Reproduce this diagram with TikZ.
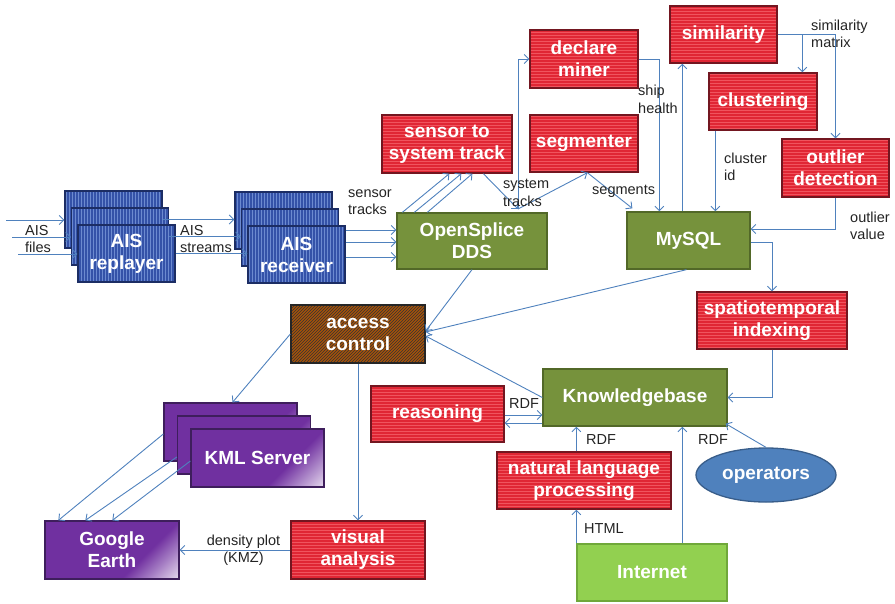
\documentclass[tikz,border=0pt]{standalone}
\usepackage{xcolor}
\usepackage{fontspec}
\setmainfont{Liberation Sans}
\usepackage{tikz}
\usetikzlibrary{positioning}
\usetikzlibrary{shapes.geometric, arrows.meta, patterns}

\definecolor{procRed}{RGB}{224,38,52}
\definecolor{procStripe}{RGB}{240,84,94}
\definecolor{procEdge}{RGB}{115,22,32}
\definecolor{aisBlue}{RGB}{52,82,168}
\definecolor{aisStripe}{RGB}{108,138,208}
\definecolor{aisEdge}{RGB}{28,45,100}
\definecolor{storeGreen}{RGB}{118,146,60}
\definecolor{storeEdge}{RGB}{82,104,40}
\definecolor{webGreen}{RGB}{146,208,80}
\definecolor{webEdge}{RGB}{112,168,58}
\definecolor{secureBrown}{RGB}{165,82,10}
\definecolor{kmlPurple}{RGB}{112,48,160}
\definecolor{kmlEdge}{RGB}{62,30,92}
\definecolor{actorBlue}{RGB}{79,129,189}
\definecolor{actorEdge}{RGB}{56,93,138}
\definecolor{flowBlue}{RGB}{79,129,189}
\definecolor{noteGray}{RGB}{35,35,35}

\pgfdeclarehorizontalshading{kmlShade}{100bp}{color(0bp)=(kmlPurple); color(64bp)=(kmlPurple); color(90bp)=(white); color(100bp)=(white)}

\newcommand{\boxFont}{\fontsize{19}{22}\selectfont\bfseries}
\newcommand{\noteFont}{\fontsize{14.5}{17.5}\selectfont}

\begin{document}
\begin{tikzpicture}[
    x=1pt, y=-1pt,
    block/.style={
        rectangle,
        line width=1.3pt,
        inner sep=0pt,
        align=center,
        text=white,
        font=\boxFont,
        minimum height=57pt
    },
    process/.style={
        block,
        draw=procEdge,
        preaction={fill=procRed},
        pattern=horizontal lines,
        pattern color=procStripe
    },
    stream/.style={
        block,
        draw=aisEdge,
        preaction={fill=aisBlue},
        pattern=vertical lines,
        pattern color=aisStripe,
        minimum width=97pt
    },
    store/.style={
        block,
        draw=storeEdge,
        fill=storeGreen
    },
    web/.style={
        block,
        draw=webEdge,
        fill=webGreen
    },
    secure/.style={
        block,
        draw=black!85,
        preaction={fill=secureBrown},
        pattern=north east lines,
        pattern color=black!80
    },
    viewer/.style={
        block,
        draw=kmlEdge,
        shade,
        shading=kmlShade,
        shading angle=-45,
        minimum width=133pt,
        minimum height=58pt
    },
    actor/.style={
        ellipse,
        draw=actorEdge,
        line width=1.3pt,
        fill=actorBlue,
        text=white,
        font=\boxFont,
        inner sep=0pt
    },
    flow/.style={
        -{Straight Barb[length=4.5pt, width=9pt]},
        draw=flowBlue,
        line width=0.9pt
    },
    note/.style={
        font=\noteFont,
        text=noteGray,
        align=left,
        inner sep=0pt,
        anchor=west
    }
]

\useasboundingbox (0,0) rectangle (895,603);

\node[stream] (replayerA) at (113.5,219.5) {};
\node[stream] (replayerB) at ([shift={(6.5,17)}]replayerA.center) {};
\node[stream] (replayerC) at ([shift={(6.5,17)}]replayerB.center) {AIS\\replayer};

\node[stream] (receiverA) at (283.5,220.5) {};
\node[stream] (receiverB) at ([shift={(6.5,17)}]receiverA.center) {};
\node[stream] (receiverC) at ([shift={(6.5,17)}]receiverB.center) {AIS\\receiver};

\node[store, minimum width=150pt, minimum height=56pt] (openSplice) at (472,241) {OpenSplice\\DDS};
\node[process, minimum width=130pt, minimum height=58pt] (sensorTrack) at (447,144) {sensor to\\system track};
\node[process, minimum width=108pt] (segmenter) at (584,143.5) {segmenter};
\node[process, minimum width=108pt, minimum height=58pt] (declareMiner) at (584,59) {declare\\miner};
\node[process, minimum width=107pt] (similarity) at (723.5,34.5) {similarity};
\node[process, minimum width=108pt] (clustering) at (763,101.5) {clustering};
\node[process, minimum width=107pt, minimum height=58pt] (outlier) at (835.5,168) {outlier\\detection};
\node[store, minimum width=123pt] (mySQL) at (688.5,240.5) {MySQL};
\node[process, minimum width=150pt] (spatio) at (772,320.5) {spatiotemporal\\indexing};
\node[store, minimum width=184pt] (knowledge) at (635,397.5) {Knowledgebase};
\node[process, minimum width=133pt, minimum height=56pt] (reasoning) at (437.5,414) {reasoning};
\node[process, minimum width=174pt] (nlp) at (584,480.5) {natural language\\processing};
\node[actor, minimum width=140pt, minimum height=54pt] (operators) at (766,475) {operators};
\node[web, minimum width=150pt] (internet) at (652,572.5) {Internet};
\node[secure, minimum width=134pt, minimum height=58pt] (access) at (358,334) {access\\control};

\node[viewer] (kmlA) at (230.5,432) {};
\node[viewer] (kmlB) at ([shift={(13.5,13)}]kmlA.center) {};
\node[viewer] (kmlC) at ([shift={(13.5,13)}]kmlB.center) {KML Server};
\node[viewer, minimum width=134pt] (googleEarth) at (112,550) {Google\\Earth};
\node[process, minimum width=134pt, minimum height=58pt] (visual) at (358,550) {visual\\analysis};

\coordinate (inA) at (6,220);
\coordinate (inB) at (12,237);
\coordinate (inC) at (18,254);
\foreach \p/\q in {inA/replayerA, inB/replayerB, inC/replayerC}
    \draw[flow] (\p) -- (\p -| \q.west);

\foreach \p/\q in {replayerA/receiverA, replayerB/receiverB, replayerC/receiverC}
    \draw[flow] (\p.east) -- (\p.east -| \q.west);

\foreach \dy in {-24.5,-12.5,2.5}
    \draw[flow] ([shift={(0,\dy)}]receiverC.east) coordinate (tap) -- (tap -| openSplice.west);

\foreach \a/\b in {6/68, 18/80, 31/91}
    \draw[flow] ([shift={(\a,0)}]openSplice.north west) -- ([shift={(\b,0)}]sensorTrack.south west);

\coordinate (sysTracks) at (518,209);
\draw[flow] ([shift={(102,0)}]sensorTrack.south west) -- (sysTracks);
\draw[flow] (sysTracks) |- (declareMiner.west);
\draw[flow] (sysTracks) -- ([shift={(58,0)}]segmenter.south west);
\draw[flow] ([shift={(58,0)}]segmenter.south west) -- ([shift={(6,-3)}]mySQL.north west);

\draw[flow] (declareMiner.east) -| ([shift={(33,0)}]mySQL.north west);
\draw[flow] ([shift={(56,0)}]mySQL.north west) -- ([shift={(13,0)}]similarity.south west);
\draw[flow] (similarity.east) -| ([shift={(94,0)}]clustering.north west);
\draw[flow] (similarity.east) -| (outlier.north);
\draw[flow] ([shift={(7,0)}]clustering.south west) -- ([shift={(89,0)}]mySQL.north west);
\draw[flow] (outlier.south) |- ([shift={(0,-11.5)}]mySQL.east);
\draw[flow] ([shift={(0,1.5)}]mySQL.east) -| (spatio.north);
\draw[flow] (spatio.south) |- (knowledge.east);

\draw[flow] (openSplice.south) -- ([shift={(0,-3)}]access.east);
\draw[flow] ([shift={(-2,0)}]mySQL.south) -- ([shift={(0,-2)}]access.east);
\draw[flow] (knowledge.west) -- ([shift={(0,2)}]access.east);
\draw[flow] (access.west) -- ([shift={(2,0)}]kmlA.north);
\draw[flow] (access.south) -- (visual.north);

\foreach \k/\dy/\dx in {kmlA/2/14, kmlB/12/41, kmlC/3/68}
    \draw[flow] ([shift={(0,\dy)}]\k.west) -- ([shift={(\dx,0)}]googleEarth.north west);
\draw[flow] (visual.west) -- (googleEarth.east);

\coordinate (rdfOut) at ([shift={(0,1)}]reasoning.east);
\coordinate (rdfIn) at ([shift={(0,9)}]reasoning.east);
\draw[flow] (rdfOut) -- (rdfOut -| knowledge.west);
\draw[flow] (rdfIn -| knowledge.west) -- (rdfIn);

\draw[flow] ([shift={(80,0)}]nlp.north west) -- ([shift={(34,0)}]knowledge.south west);
\draw[flow] (internet.north west) -- ([shift={(80,0)}]nlp.south west);
\draw[flow] ([shift={(106,0)}]internet.north west) -- ([shift={(140,0)}]knowledge.south west);
\draw[flow] (operators.north) -- ([shift={(-2,-3)}]knowledge.south east);

\node[note] (aisFiles) at (25,239) {AIS\\files};
\node[note] (aisStreams) at (180,239) {AIS\\streams};
\node[note] (sensorTracks) at (348,202) {sensor\\tracks};
\node[note] (systemTracks) at (503,193) {system\\tracks};
\node[note] (segments) at (592,191) {segments};
\node[note] (shipHealth) at (638,99.5) {ship\\health};
\node[note] (simMatrix) at (811,34) {similarity\\matrix};
\node[note] (clusterId) at (724,167) {cluster\\id};
\node[note] (outlierValue) at (850,226) {outlier\\value};
\node[note] (rdfReason) at (509,404) {RDF};
\node[note] (rdfNlp) at (586,440) {RDF};
\node[note] (rdfOps) at (698,440) {RDF};
\node[note] (html) at (584,529) {HTML};
\node[note, align=center, anchor=center] (density) at (243.5,550) {density plot\\(KMZ)};

\end{tikzpicture}
\end{document}
